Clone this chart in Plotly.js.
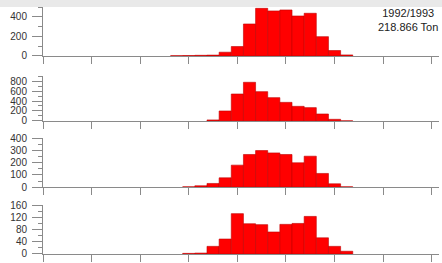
<!DOCTYPE html>
<html>
<head>
<meta charset="utf-8">
<script src="https://cdn.plot.ly/plotly-3.0.1.min.js"></script>
<style>html,body{margin:0;padding:0;background:#fff;}#chart{width:442px;height:263px;}</style>
</head>
<body>
<div id="chart"></div>
<script>
// Length classes (bin centres)
var lengthClasses = [11, 12, 13, 14, 15, 16, 17, 18, 19, 20, 21, 22, 23, 24, 25];
// Series per panel (counts); null = empty class
var panel1Values = [2, 3, 6, 8, 38, 96, 328, 489, 462, 472, 410, 438, 198, 55, 10];
var panel2Values = [null, null, null, 20, 200, 540, 775, 587, 467, 373, 293, 267, 140, 33, 3];
var panel3Values = [null, 3, 11, 30, 76, 180, 267, 299, 280, 267, 199, 253, 112, 27, 3];
var panel4Values = [null, 2, 3, 25, 49, 132, 99, 96, 72, 97, 100, 123, 53, 25, 9];
var panelLabel = ["1992/1993", "218.866 Ton"];

var series = [panel1Values, panel2Values, panel3Values, panel4Values];
var yRanges = [[0, 500], [0, 900], [0, 400], [0, 160]];
var yDticks = [200, 200, 100, 40];
var yMinor = [100, 100, 50, 20];
var H = 254.5;
var domains = [
  [(H - 56) / H, (H - 7.25) / H],
  [(H - 121.2) / H, (H - 76.2) / H],
  [(H - 187.5) / H, (H - 138.5) / H],
  [0, 49 / H]
];

var traces = [];
var layout = {
  width: 442, height: 263,
  margin: {l: 43, r: 2.5, t: 0, b: 8.5},
  paper_bgcolor: '#ffffff', plot_bgcolor: '#ffffff',
  showlegend: false, bargap: 0,
  font: {family: 'Liberation Sans, Arial, sans-serif', size: 10, color: '#333'},
  shapes: [{type: 'rect', xref: 'paper', yref: 'paper', x0: -0.2, x1: 1.1,
            y0: 1 - 7 / H, y1: 1.05, fillcolor: '#e9e9e9', line: {width: 0}, layer: 'below'}],
  annotations: [{xref: 'paper', yref: 'paper', x: (408 - 43) / 396.5, y: 1 - 20 / H,
                 xanchor: 'center', yanchor: 'middle', align: 'center', showarrow: false,
                 text: panelLabel.join('<br>'),
                 font: {family: 'Liberation Sans, Arial, sans-serif', size: 11, color: '#222'}}]
};

series.forEach(function (vals, i) {
  var n = i + 1;
  var xa = 'x' + (n === 1 ? '' : n), ya = 'y' + (n === 1 ? '' : n);
  traces.push({type: 'bar', x: lengthClasses, y: vals, xaxis: xa, yaxis: ya, width: 1,
               marker: {color: '#ff0000', line: {color: '#c00000', width: 0.6}},
               hoverinfo: 'none'});
  layout['xaxis' + (n === 1 ? '' : n)] = {
    domain: [0, 1], range: [0, 32.6], anchor: ya, showgrid: false, zeroline: false,
    showline: true, linecolor: '#8a8a8a', linewidth: 1,
    ticks: 'outside', ticklen: 7, tickcolor: '#8a8a8a', tickwidth: 1,
    tick0: 0, dtick: 4, showticklabels: false
  };
  layout['yaxis' + (n === 1 ? '' : n)] = {
    domain: domains[i], range: yRanges[i], anchor: xa, showgrid: false, zeroline: false,
    showline: true, linecolor: '#8a8a8a', linewidth: 1,
    ticks: 'outside', ticklen: 10, tickcolor: '#8a8a8a', tickwidth: 1,
    tick0: 0, dtick: yDticks[i], ticklabelstandoff: 3,
    minor: {dtick: yMinor[i], ticks: 'outside', ticklen: 4, tickcolor: '#8a8a8a', tickwidth: 1},
    tickfont: {size: 10, color: '#333'}
  };
});

Plotly.newPlot('chart', traces, layout, {displayModeBar: false, staticPlot: true});
</script>
</body>
</html>
